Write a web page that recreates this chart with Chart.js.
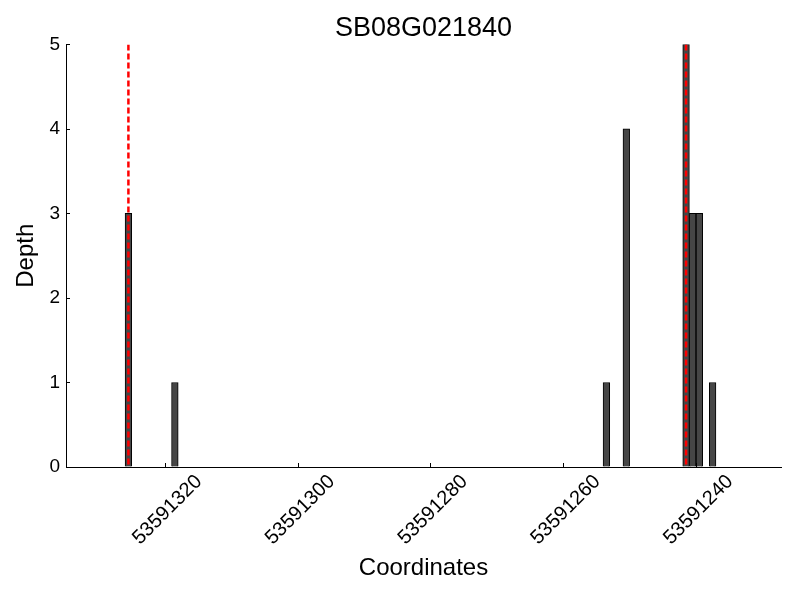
<!DOCTYPE html>
<html>
<head>
<meta charset="utf-8">
<script src="https://cdn.jsdelivr.net/npm/chart.js@4/dist/chart.umd.min.js"></script>
<style>
  html, body { margin: 0; padding: 0; background: #fff; }
  #wrap { width: 800px; height: 600px; }
</style>
</head>
<body>
<div id="wrap"><canvas id="depthChart"></canvas></div>
<script>
const chartTitle = 'SB08G021840';
const coordinates = [53591325.5, 53591318.5, 53591253.5, 53591250.5, 53591241.5, 53591240.5, 53591239.5, 53591237.5];
const depths = [3, 1, 1, 4, 5, 3, 3, 1];
const markerCoords = [53591325.5, 53591241.5];
const xTicks = [53591320, 53591300, 53591280, 53591260, 53591240];
const yTicks = [0, 1, 2, 3, 4, 5];
const xRange = [53591227.2, 53591334.9];

const FONT = '"Liberation Sans", Arial, sans-serif';
Chart.defaults.font.family = FONT;
Chart.defaults.color = '#000';

// ticks pointing inward, like the original plot
const innerTicks = {
  id: 'innerTicks',
  afterDraw(chart) {
    const ctx = chart.ctx;
    const x = chart.scales.x, y = chart.scales.y;
    ctx.save();
    ctx.strokeStyle = '#000';
    ctx.lineWidth = 1;
    ctx.beginPath();
    x.ticks.forEach(t => {
      const px = Math.round(x.getPixelForValue(t.value)) + 0.5;
      ctx.moveTo(px, y.bottom);
      ctx.lineTo(px, y.bottom - 4);
    });
    y.ticks.forEach(t => {
      const py = Math.round(y.getPixelForValue(t.value)) + 0.5;
      ctx.moveTo(x.left, py);
      ctx.lineTo(x.left + 4, py);
    });
    ctx.stroke();
    ctx.restore();
  }
};

const datasets = [{
  type: 'bar',
  data: coordinates.map((c, i) => ({ x: c, y: depths[i] })),
  backgroundColor: '#464646',
  borderColor: '#000',
  borderWidth: 1,
  barPercentage: 1,
  categoryPercentage: 1,
  order: 2
}];

markerCoords.forEach(c => {
  datasets.push({
    type: 'line',
    data: [{ x: c, y: 5 }, { x: c, y: 0 }],
    borderColor: '#ff0000',
    borderWidth: 2.5,
    borderDash: [6, 3],
    pointRadius: 0,
    fill: false,
    order: 1
  });
});

new Chart(document.getElementById('depthChart'), {
  type: 'bar',
  data: { datasets },
  options: {
    responsive: true,
    maintainAspectRatio: false,
    animation: false,
    layout: { padding: { left: 0, right: 19, top: 0, bottom: 0 } },
    plugins: {
      legend: { display: false },
      tooltip: { enabled: false },
      title: {
        display: true,
        fullSize: false,
        text: chartTitle,
        font: { size: 27, weight: 'normal' },
        color: '#000',
        padding: { top: 12, bottom: 0 }
      }
    },
    scales: {
      x: {
        type: 'linear',
        reverse: true,
        offset: false,
        min: xRange[0],
        max: xRange[1],
        afterBuildTicks: s => { s.ticks = xTicks.map(v => ({ value: v })); },
        afterFit: s => { s.height = 133; },
        ticks: {
          maxRotation: 45,
          minRotation: 45,
          padding: 3,
          labelOffset: 34,
          font: { size: 20 },
          callback: v => String(v)
        },
        grid: { display: true, drawOnChartArea: false, drawTicks: false, tickLength: 0 },
        border: { display: true, color: '#000', width: 1 },
        title: {
          display: true,
          text: 'Coordinates',
          font: { size: 24 },
          padding: { top: 0, bottom: 17 }
        }
      },
      y: {
        min: 0,
        max: 5,
        afterBuildTicks: s => { s.ticks = yTicks.map(v => ({ value: v })); },
        afterFit: s => { s.width = 66; },
        ticks: { font: { size: 19 }, padding: 6 },
        grid: { display: true, drawOnChartArea: false, drawTicks: false, tickLength: 0 },
        border: { display: true, color: '#000', width: 1 },
        title: {
          display: true,
          text: 'Depth',
          font: { size: 24 },
          padding: { top: 12, bottom: 0 }
        }
      }
    }
  },
  plugins: [innerTicks]
});
</script>
</body>
</html>
